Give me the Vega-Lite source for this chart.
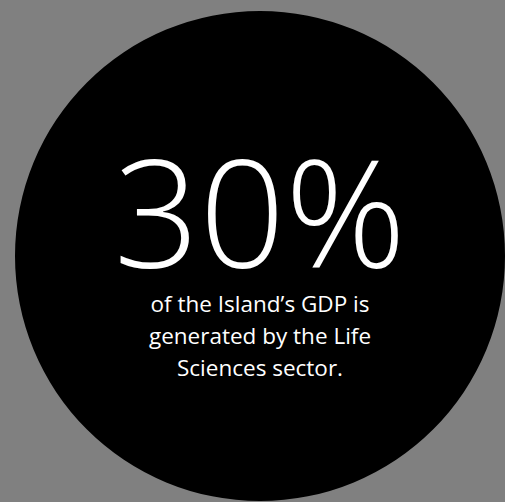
{
  "$schema": "https://vega.github.io/schema/vega-lite/v6.json",
  "width": 505,
  "height": 502,
  "padding": 0,
  "autosize": {"type": "fit", "contains": "padding"},
  "background": "#808080",
  "config": {"view": {"stroke": null}},
  "datasets": {
    "circle": [{"x": 260, "y": 256}],
    "big": [{"x": 260, "y": 268, "label": "30%"}],
    "lines": [
      {"x": 260, "y": 312, "label": "of the Island’s GDP is"},
      {"x": 260, "y": 344, "label": "generated by the Life"},
      {"x": 260, "y": 376, "label": "Sciences sector."}
    ]
  },
  "encoding": {
    "x": {"field": "x", "type": "quantitative", "scale": {"domain": [0, 505], "nice": false, "zero": false}, "axis": null},
    "y": {"field": "y", "type": "quantitative", "scale": {"domain": [0, 502], "nice": false, "zero": false, "reverse": true}, "axis": null}
  },
  "layer": [
    {
      "data": {"name": "circle"},
      "mark": {"type": "point", "shape": "circle", "filled": true, "size": 240100, "color": "#000000", "opacity": 1}
    },
    {
      "data": {"name": "big"},
      "mark": {"type": "text", "font": "Open Sans", "fontWeight": 300, "fontSize": 150, "color": "#ffffff", "align": "center", "baseline": "alphabetic"},
      "encoding": {"text": {"field": "label"}}
    },
    {
      "data": {"name": "lines"},
      "mark": {"type": "text", "font": "Open Sans", "fontWeight": 400, "fontSize": 22.5, "color": "#ffffff", "align": "center", "baseline": "alphabetic"},
      "encoding": {"text": {"field": "label"}}
    }
  ]
}
